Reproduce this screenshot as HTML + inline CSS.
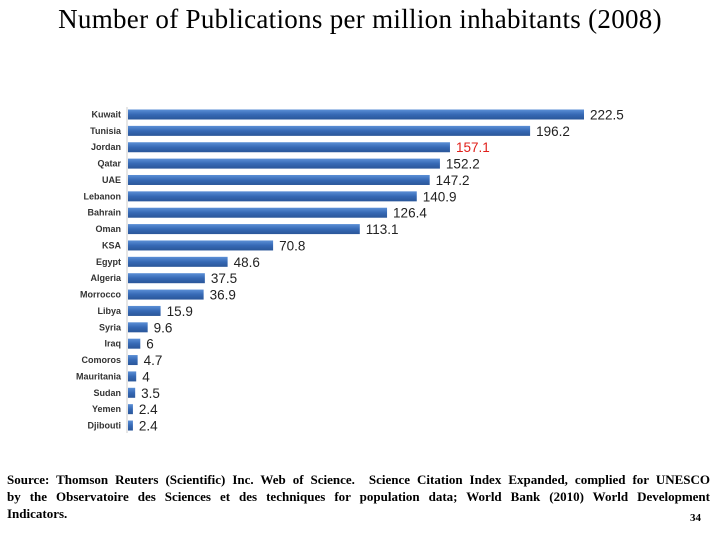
<!DOCTYPE html>
<html><head><meta charset="utf-8"><style>
body{margin:0;width:720px;height:540px;background:#fff;overflow:hidden;position:relative;font-family:"Liberation Sans",sans-serif}
#title{position:absolute;top:4px;left:0;width:720px;text-align:center;font-family:"Liberation Serif",serif;font-size:27px;letter-spacing:0.3px;color:#000;white-space:nowrap}
#src{position:absolute;left:7px;top:471px;width:703px;font-family:"Liberation Serif",serif;font-size:13px;font-weight:bold;line-height:17px}
#src div{text-align:justify;text-align-last:justify;white-space:nowrap}
#src div.last{text-align-last:left}
#pg{position:absolute;left:690px;top:512px;font-family:"Liberation Serif",serif;font-size:11px;font-weight:bold}
</style></head><body>
<div id="title">Number of Publications per million inhabitants (2008)</div>
<svg id="chart" width="720" height="540" style="position:absolute;left:0;top:0">
<defs><linearGradient id="g" x1="0" y1="0" x2="0" y2="1"><stop offset="0" stop-color="#5b8fd6"/><stop offset="0.5" stop-color="#3669b5"/><stop offset="1" stop-color="#2a5699"/></linearGradient></defs>
</svg>
<div id="src"><div>Source: Thomson Reuters (Scientific) Inc. Web of Science.&nbsp; Science Citation Index Expanded, complied for UNESCO</div><div>by the Observatoire des Sciences et des techniques for population data; World Bank (2010) World Development</div><div class="last">Indicators.</div></div>
<div id="pg">34</div>
<script>
const categories=["Kuwait","Tunisia","Jordan","Qatar","UAE","Lebanon","Bahrain","Oman","KSA","Egypt","Algeria","Morrocco","Libya","Syria","Iraq","Comoros","Mauritania","Sudan","Yemen","Djibouti"];
const values=[222.5,196.2,157.1,152.2,147.2,140.9,126.4,113.1,70.8,48.6,37.5,36.9,15.9,9.6,6,4.7,4,3.5,2.4,2.4];
const labels=["222.5","196.2","157.1","152.2","147.2","140.9","126.4","113.1","70.8","48.6","37.5","36.9","15.9","9.6","6","4.7","4","3.5","2.4","2.4"];
const svg=document.getElementById('chart');const NS='http://www.w3.org/2000/svg';
const x0=128,scale=456/222.5,y0=114.5,step=16.37;
const xs=v=>x0+v*scale, ys=i=>y0+i*step;
function mk(t,a){const e=document.createElementNS(NS,t);for(const k in a)e.setAttribute(k,a[k]);svg.appendChild(e);return e;}
const ax=mk('line',{x1:127,y1:107,x2:127,y2:433,stroke:'#ccc','stroke-width':1});


categories.forEach((c,i)=>{
 const r=mk('rect',{x:x0,y:ys(i)-5,width:Math.max(1,xs(values[i])-x0),height:10,fill:'url(#g)'});
 
 
 const t=mk('text',{x:121,y:ys(i)+3,'text-anchor':'end','font-size':'9','font-weight':'bold',fill:'#333'});t.textContent=c;
 
 
 const v=mk('text',{x:xs(values[i])+6,y:ys(i)+5,'font-size':'13.5',fill:c==='Jordan'?'#e0201b':'#222'});v.textContent=labels[i];
 
 
});
</script>
</body></html>
